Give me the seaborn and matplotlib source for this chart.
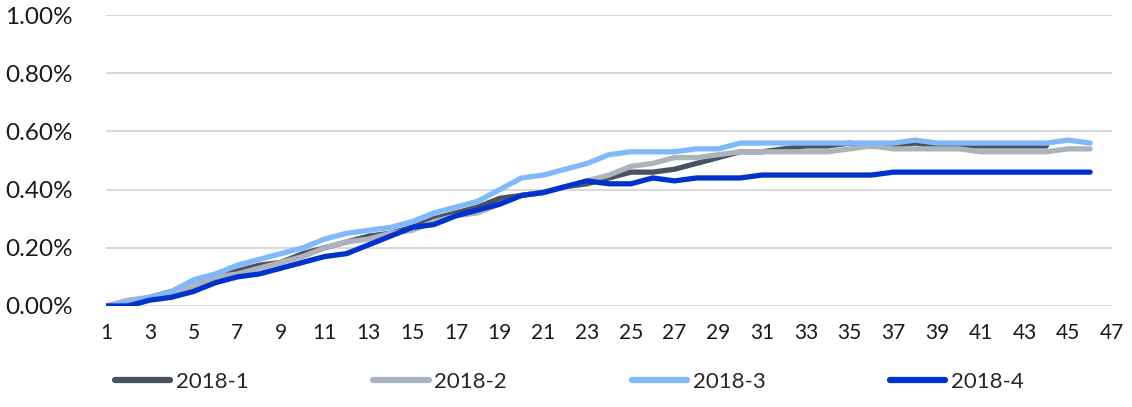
import numpy as np
import pandas as pd
import seaborn as sns
import matplotlib.pyplot as plt
from matplotlib.ticker import FuncFormatter

# cumulative rate (%) by period, one list per cohort
s2018_1 = [0.00, 0.01, 0.03, 0.05, 0.07, 0.10, 0.12, 0.14, 0.15, 0.18,
           0.20, 0.22, 0.24, 0.25, 0.27, 0.30, 0.32, 0.34, 0.37, 0.38,
           0.39, 0.41, 0.42, 0.44, 0.46, 0.46, 0.47, 0.49, 0.51, 0.53,
           0.53, 0.54, 0.55, 0.55, 0.56, 0.55, 0.55, 0.56, 0.55, 0.55,
           0.55, 0.55, 0.55, 0.55]
s2018_2 = [0.00, 0.02, 0.03, 0.04, 0.07, 0.10, 0.11, 0.13, 0.15, 0.17,
           0.20, 0.22, 0.23, 0.25, 0.26, 0.29, 0.31, 0.32, 0.35, 0.38,
           0.39, 0.41, 0.43, 0.45, 0.48, 0.49, 0.51, 0.51, 0.52, 0.53,
           0.53, 0.53, 0.53, 0.53, 0.54, 0.55, 0.54, 0.54, 0.54, 0.54,
           0.53, 0.53, 0.53, 0.53, 0.54, 0.54]
s2018_3 = [0.00, 0.01, 0.03, 0.05, 0.09, 0.11, 0.14, 0.16, 0.18, 0.20,
           0.23, 0.25, 0.26, 0.27, 0.29, 0.32, 0.34, 0.36, 0.40, 0.44,
           0.45, 0.47, 0.49, 0.52, 0.53, 0.53, 0.53, 0.54, 0.54, 0.56,
           0.56, 0.56, 0.56, 0.56, 0.56, 0.56, 0.56, 0.57, 0.56, 0.56,
           0.56, 0.56, 0.56, 0.56, 0.57, 0.56]
s2018_4 = [0.00, 0.00, 0.02, 0.03, 0.05, 0.08, 0.10, 0.11, 0.13, 0.15,
           0.17, 0.18, 0.21, 0.24, 0.27, 0.28, 0.31, 0.33, 0.35, 0.38,
           0.39, 0.41, 0.43, 0.42, 0.42, 0.44, 0.43, 0.44, 0.44, 0.44,
           0.45, 0.45, 0.45, 0.45, 0.45, 0.45, 0.46, 0.46, 0.46, 0.46,
           0.46, 0.46, 0.46, 0.46, 0.46, 0.46]

series = {'2018-1': s2018_1, '2018-2': s2018_2, '2018-3': s2018_3, '2018-4': s2018_4}
colors = ['#4a525e', '#adb3bd', '#7fb9fb', '#0033cc']

rows = []
for name, vals in series.items():
    for i, v in enumerate(vals):
        rows.append({'period': i + 1, 'rate': v, 'cohort': name})
df = pd.DataFrame(rows)

sns.set_style('white')
plt.rcParams['font.family'] = ['Lato', 'DejaVu Sans']

fig = plt.figure(figsize=(11.32, 4.07), dpi=100)
ax = fig.add_axes([106 / 1132, 1 - 306 / 407, 1006 / 1132, 291 / 407])

sns.lineplot(data=df, x='period', y='rate', hue='cohort', palette=colors,
             linewidth=3.8, ax=ax, legend=True)
for ln in ax.lines:
    ln.set_solid_capstyle('round')

ax.set_xlim(1, 47)
ax.set_ylim(0, 1.0)
ax.set_xticks(range(1, 48, 2))
ax.set_yticks(np.arange(0, 1.01, 0.2))
ax.yaxis.set_major_formatter(FuncFormatter(lambda v, p: f'{v:.2f}%'))
ax.set_xlabel('')
ax.set_ylabel('')
ax.grid(axis='y', color='#d9d9d9', linewidth=1.5)
ax.set_axisbelow(True)
for sp in ax.spines.values():
    sp.set_visible(False)
ax.tick_params(axis='y', labelsize=17.5, pad=24, colors='#1a1a1a', length=0)
ax.tick_params(axis='x', labelsize=15, pad=12, colors='#1a1a1a', length=0)

leg = ax.legend(loc='upper left', bbox_to_anchor=(0.0, -0.195), ncol=4,
                frameon=False, fontsize=16, handlelength=2.5,
                handletextpad=0.25, columnspacing=5.6, borderaxespad=0)
for h in leg.get_lines():
    h.set_linewidth(4.5)

fig.savefig('out.png', dpi=100)
